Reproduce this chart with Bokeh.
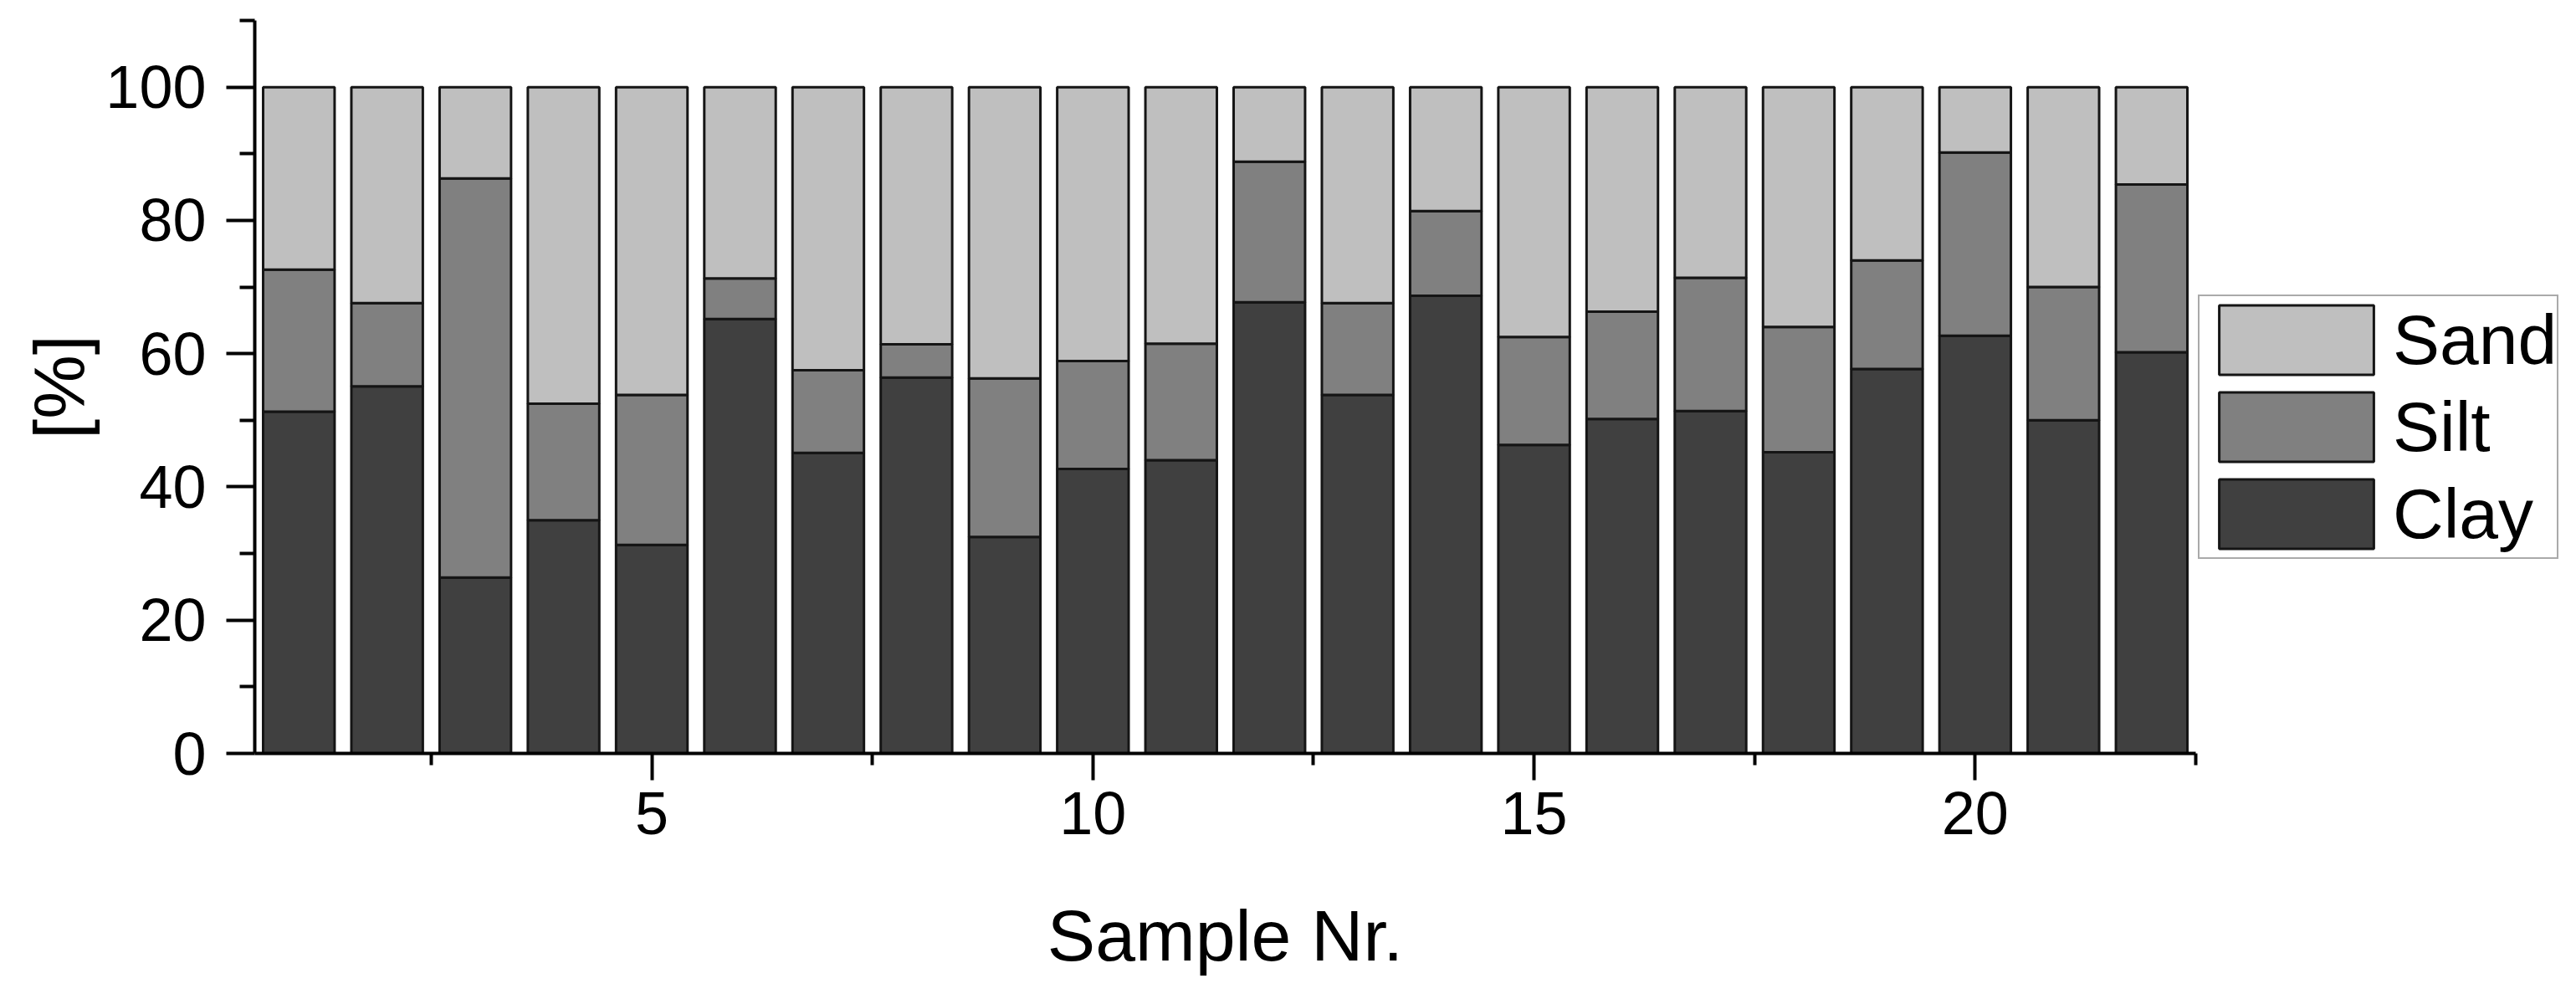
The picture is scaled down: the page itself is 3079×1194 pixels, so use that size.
from bokeh.plotting import figure
from bokeh.models import ColumnDataSource, FixedTicker, Range1d, Legend, LegendItem
from bokeh.embed import file_html
from bokeh.resources import INLINE

samples = list(range(1, 23))
clay = [51.3, 55.1, 26.4, 35.0, 31.3, 65.2, 45.1, 56.4, 32.5, 42.7, 44.0,
        67.7, 53.8, 68.7, 46.3, 50.2, 51.4, 45.2, 57.7, 62.7, 50.0, 60.2]
silt = [21.3, 12.5, 59.9, 17.5, 22.5, 6.1, 12.4, 5.0, 23.8, 16.2, 17.5,
        21.1, 13.8, 12.7, 16.2, 16.1, 20.0, 18.8, 16.3, 27.5, 20.0, 25.2]
sand = [27.4, 32.4, 13.7, 47.5, 46.2, 28.7, 42.5, 38.6, 43.7, 41.1, 38.5,
        11.2, 32.4, 18.6, 37.5, 33.7, 28.6, 36.0, 26.0, 9.8, 30.0, 14.6]
series = ["Clay", "Silt", "Sand"]
colors = ["#404040", "#808080", "#bfbfbf"]
x_major = [5, 10, 15, 20]
x_minor = [2.5, 7.5, 12.5, 17.5, 22.5]
y_major = [0, 20, 40, 60, 80, 100]
y_minor = [10, 30, 50, 70, 90, 110]

source = ColumnDataSource(dict(x=samples, Clay=clay, Silt=silt, Sand=sand))

FONT = "Liberation Sans"

p = figure(output_backend="svg", toolbar_location=None,
           x_range=Range1d(0.5, 22.5), y_range=Range1d(0, 110),
           frame_width=2320, frame_height=876,
           min_border_left=304, min_border_top=24, min_border_right=436,
           min_border_bottom=278)
p.outline_line_color = None
p.xgrid.visible = False
p.ygrid.visible = False

renderers = p.vbar_stack(series, x="x", width=0.81, source=source,
                         fill_color=colors, line_color="#151515", line_width=3)

for ax in (p.xaxis[0], p.yaxis[0]):
    ax.axis_line_width = 4
    ax.axis_line_color = "black"
    ax.major_tick_line_width = 4
    ax.minor_tick_line_width = 4
    ax.major_tick_line_color = "black"
    ax.minor_tick_line_color = "black"
    ax.major_tick_in = 0
    ax.minor_tick_in = 0
    ax.major_label_text_font = FONT
    ax.major_label_text_font_size = "72px"
    ax.major_label_text_color = "black"
    ax.axis_label_text_font = FONT
    ax.axis_label_text_font_size = "86px"
    ax.axis_label_text_font_style = "normal"
    ax.axis_label_text_color = "black"

p.xaxis.ticker = FixedTicker(ticks=x_major, minor_ticks=x_minor)
p.yaxis.ticker = FixedTicker(ticks=y_major, minor_ticks=y_minor)
p.xaxis.major_tick_out = 32
p.xaxis.minor_tick_out = 14
p.yaxis.major_tick_out = 34
p.yaxis.minor_tick_out = 18
p.xaxis.major_label_standoff = 14
p.yaxis.major_label_standoff = 24
p.xaxis.axis_label = "Sample Nr."
p.yaxis.axis_label = "[%]"
p.xaxis.axis_label_standoff = 70
p.yaxis.axis_label_standoff = 4

items = [LegendItem(label=name, renderers=[r]) for name, r in zip(series, renderers)]
items = items[::-1]
legend = Legend(items=items, location=(3, 232), orientation="vertical",
                glyph_width=231, glyph_height=104, label_text_font=FONT,
                label_text_font_size="84px", label_text_color="black",
                label_standoff=0, spacing=0, padding=0, margin=0,
                border_line_color="#555555", border_line_width=2,
                background_fill_alpha=1.0)
p.add_layout(legend, "right")

open("out.html", "w").write(file_html(p, INLINE))
